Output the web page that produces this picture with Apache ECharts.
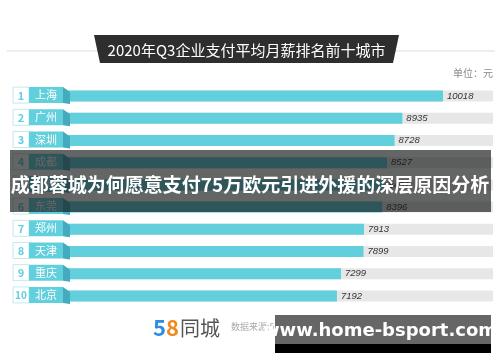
<!DOCTYPE html>
<html><head><meta charset="utf-8">
<script src="https://cdn.jsdelivr.net/npm/echarts@6/dist/echarts.min.js"></script>
<style>html,body{margin:0;padding:0;background:#fff}#c{width:500px;height:362px}</style>
</head><body><div id="c"></div>
<script>
var titleText = '2020年Q3企业支付平均月薪排名前十城市';
var unitText = '单位：元';
var bannerText = '成都蓉城为何愿意支付75万欧元引进外援的深层原因分析';
var sourceText = '数据来源:58同城招聘研究院';
var watermarkText = 'www.home-bsport.com';
var cities = ['上海','广州','深圳','成都','杭州','东莞','郑州','天津','重庆','北京'];
var salaries = [10018,8935,8728,8527,8452,8396,7913,7899,7299,7192];
var ranks = ['1','2','3','4','5','6','7','8','9','10'];

var FONT = '"Noto Sans CJK SC", "Noto Sans", sans-serif';
var TEAL = '#62cfdc';
var chart = echarts.init(document.getElementById('c'), null, {renderer:'canvas'});

var customData = cities.map(function(c, i){ return [0, i]; });

chart.setOption({
  animation: false,
  backgroundColor: '#ffffff',
  grid: {left: 67, right: 7, top: 85, bottom: 55, containLabel: false},
  xAxis: {type: 'value', min: 0, max: 11350, show: false},
  yAxis: {type: 'category', data: cities, inverse: true, show: false},
  series: [
    {
      type: 'bar',
      data: salaries,
      barWidth: 11,
      showBackground: true,
      backgroundStyle: {color: '#e7e7e7'},
      itemStyle: {color: TEAL},
      label: {
        show: true, position: 'right', distance: 4,
        fontStyle: 'italic', fontSize: 9.5, color: '#333',
        fontFamily: 'Liberation Sans, Arial, sans-serif'
      },
      z: 2
    },
    {
      type: 'custom',
      data: customData,
      clip: false,
      z: 5,
      renderItem: function(params, api){
        var p = api.coord([0, api.value(1)]);
        var x0 = p[0], y = p[1];
        var top = y - 9, h = 16;
        var i = params.dataIndex;
        return {
          type: 'group',
          children: [
            {type: 'rect', shape: {x: x0 - 54, y: top, width: 16, height: h},
             style: {fill: '#fff', stroke: '#bfeaf0', lineWidth: 1}},
            {type: 'text', style: {text: ranks[i], x: x0 - 46, y: top + h/2 + 0.5,
              textAlign: 'center', textVerticalAlign: 'middle', fill: TEAL,
              font: 'bold ' + (i === 9 ? 10 : 11) + 'px ' + FONT}},
            {type: 'rect', shape: {x: x0 - 38, y: top, width: 34, height: h},
             style: {fill: TEAL}},
            {type: 'text', style: {text: cities[i], x: x0 - 21, y: top + h/2,
              textAlign: 'center', textVerticalAlign: 'middle', fill: '#fff',
              font: '11px ' + FONT}},
            {type: 'polygon', shape: {points: [[x0 - 4, top], [x0 + 3, top + 5], [x0 + 3, top + h + 1], [x0 - 4, top + h]]},
             style: {fill: '#43abbd'}}
          ]
        };
      }
    }
  ],
  graphic: [
    {type: 'line', shape: {x1: 7, y1: 51, x2: 495, y2: 51}, style: {stroke: '#dddddd', lineWidth: 1}, z: 1},
    {type: 'polygon', shape: {points: [[94, 35], [399, 35], [393, 63], [100, 63]], smooth: 0},
     style: {fill: '#2e2e2e'}, z: 2},
    {type: 'text', style: {text: titleText, x: 246.5, y: 50, textAlign: 'center', textVerticalAlign: 'middle',
      fill: '#fff', font: '15px ' + FONT}, z: 3},
    {type: 'text', style: {text: unitText, x: 493, y: 73, textAlign: 'right', textVerticalAlign: 'middle',
      fill: '#888', font: '10px ' + FONT}, z: 3},
    {type: 'rect', shape: {x: 10, y: 150, width: 481, height: 62}, style: {fill: 'rgba(20,22,22,0.66)'}, z: 100},
    {type: 'text', style: {text: bannerText, x: 250, y: 185, textAlign: 'center', textVerticalAlign: 'middle',
      fill: '#fff', font: 'bold 19px ' + FONT}, z: 101},
    {type: 'text', style: {rich: {a: {fill: '#2b8ee0', font: 'bold 22px ' + FONT}, b: {fill: '#f08a1c', font: 'bold 22px ' + FONT}},
      text: '{a|5}{b|8}', x: 153, y: 328, textVerticalAlign: 'middle'}, z: 3},
    {type: 'text', style: {text: '同城', x: 180, y: 328, textVerticalAlign: 'middle',
      fill: '#555', font: '20px ' + FONT}, z: 3},
    {type: 'text', style: {text: sourceText, x: 231, y: 327, textVerticalAlign: 'middle',
      fill: '#aaa', font: '9px ' + FONT}, z: 3},
    {type: 'rect', shape: {x: 275, y: 315, width: 216, height: 29}, style: {fill: '#666666'}, z: 100},
    {type: 'rect', shape: {x: 275, y: 344, width: 216, height: 9}, style: {fill: '#000000'}, z: 100},
    {type: 'text', style: {text: watermarkText, x: 380, y: 331, textAlign: 'center', textVerticalAlign: 'middle',
      fill: '#fff', font: 'bold 18px "DejaVu Sans", sans-serif'}, z: 101}
  ]
});
</script></body></html>
